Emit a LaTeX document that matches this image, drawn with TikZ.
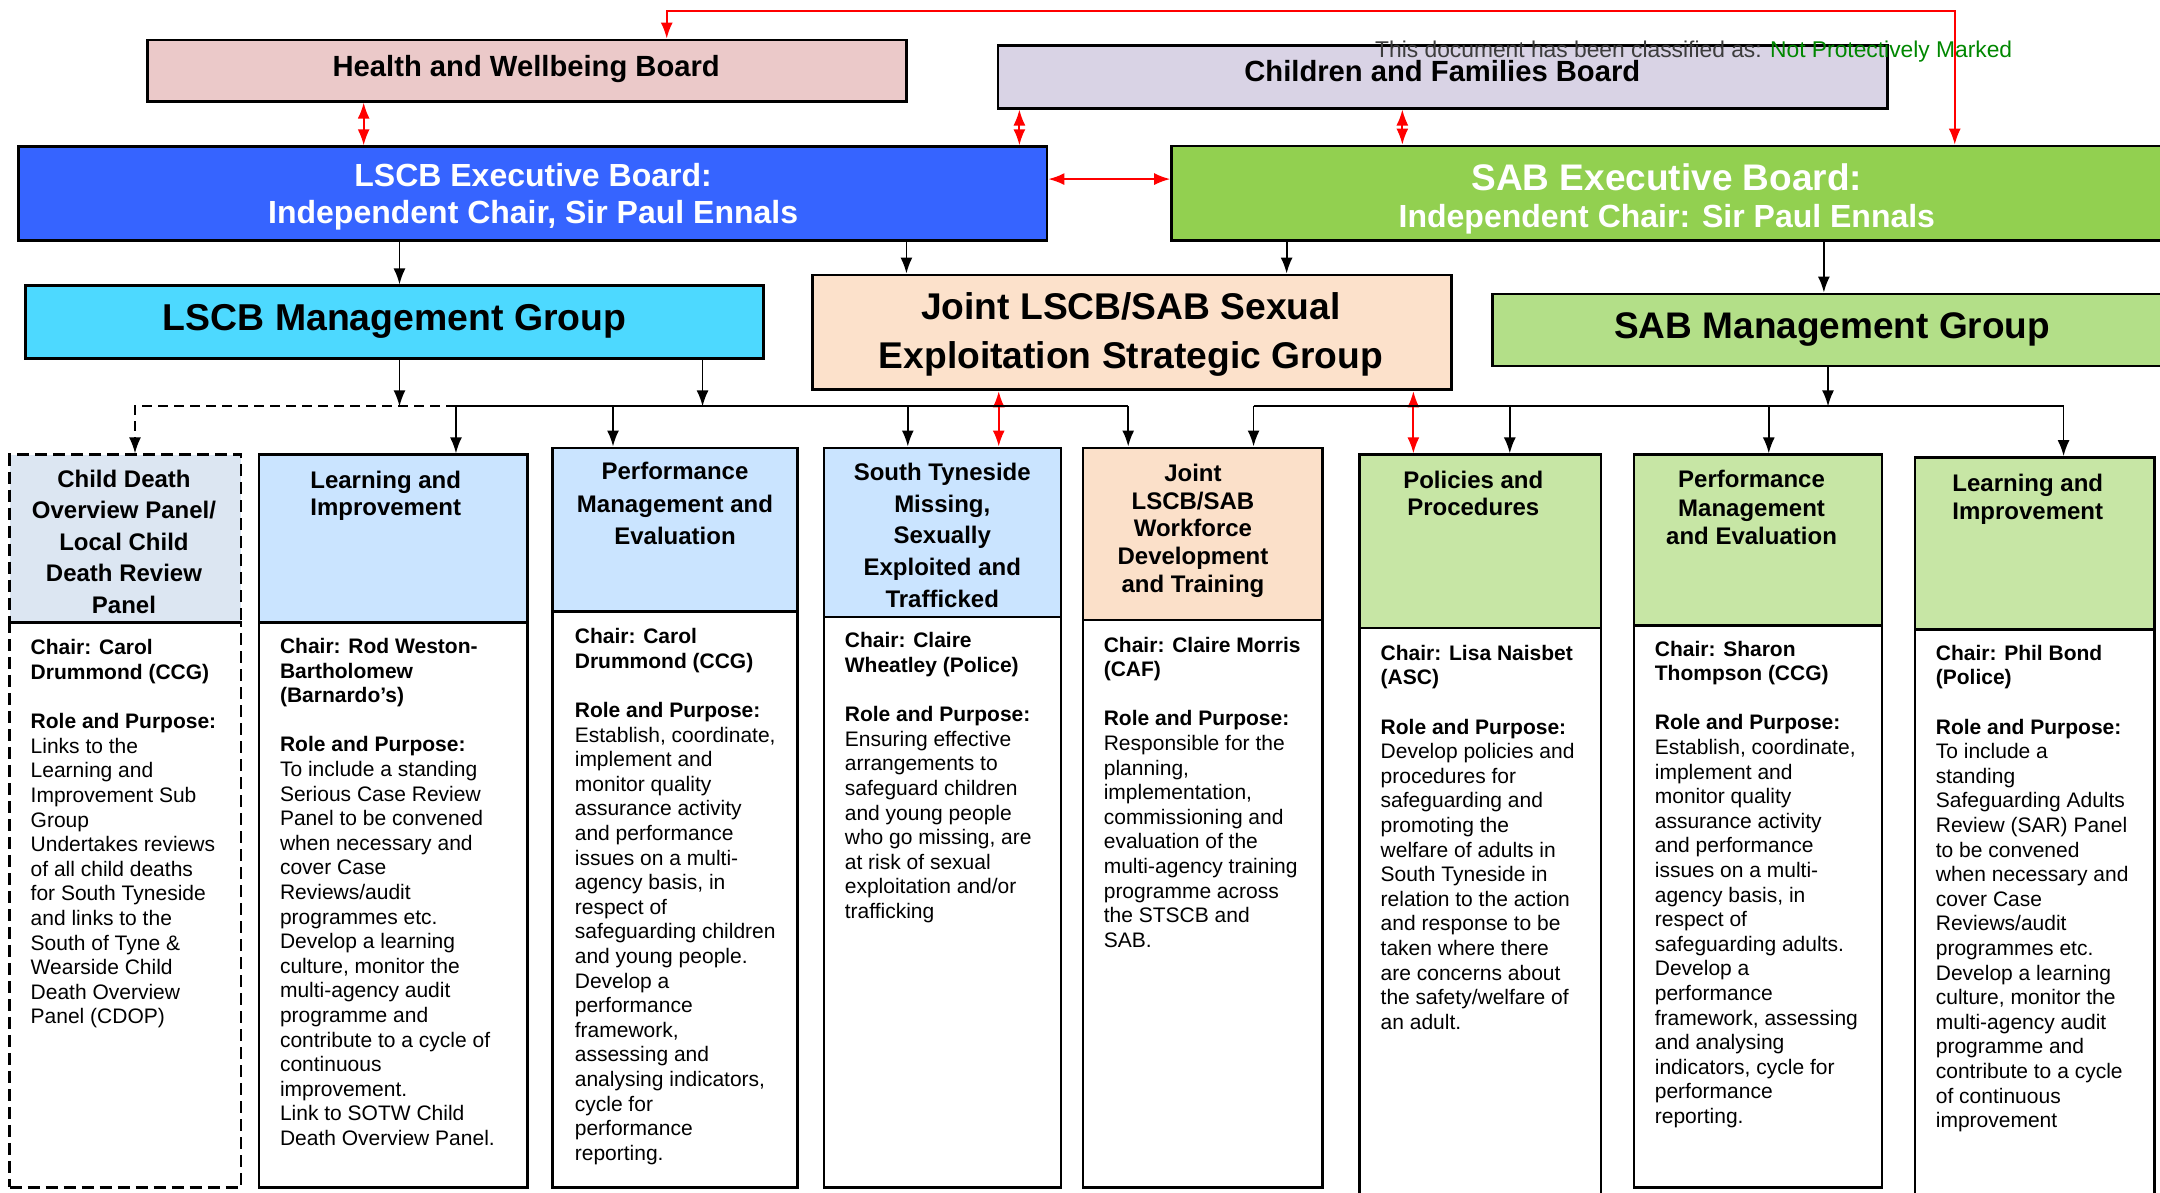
\documentclass[tikz,border=0pt]{standalone}
\usepackage{fontspec}
\setmainfont{Liberation Sans}
\usetikzlibrary{arrows.meta,fit}

\definecolor{hwbpink}{RGB}{235,201,201}
\definecolor{cfblilac}{RGB}{217,211,229}
\definecolor{lscbblue}{RGB}{54,100,255}
\definecolor{sabgreen}{RGB}{146,208,80}
\definecolor{lscbcyan}{RGB}{77,217,255}
\definecolor{jointpeach}{RGB}{252,225,203}
\definecolor{sablight}{RGB}{179,223,136}
\definecolor{cdopgrey}{RGB}{220,230,242}
\definecolor{subblue}{RGB}{202,228,255}
\definecolor{subpeach}{RGB}{251,224,201}
\definecolor{subgreen}{RGB}{199,230,165}
\definecolor{classgrey}{RGB}{60,60,60}
\definecolor{classgreen}{RGB}{0,135,0}

\begin{document}
\begin{tikzpicture}[
    x=0.6888pt, y=-0.6888pt, % one unit = one px of the layout grid, y down
    topbox/.style = {draw=black, line width=1.4pt, inner sep=0pt},
    subbox/.style = {draw=black, line width=1.2pt, inner sep=0pt},
    toptxt/.style = {anchor=base, inner sep=0pt, font=\bfseries\fontsize{#1}{#1}\selectfont},
    headtxt/.style = {anchor=north, align=center, inner sep=0pt, font=\bfseries\fontsize{12}{#1}\selectfont, execute at begin node=\strut},
    headtxt/.default = 15.7,
    bodytxt/.style = {anchor=north west, align=left, inner sep=0pt, font=\fontsize{10.5}{12.3}\selectfont, execute at begin node=\strut},
    line/.style = {-{Latex[length=8pt,width=6pt]}, draw=black, line width=0.9pt},
    redline/.style = {{Latex[length=8pt,width=6pt]}-{Latex[length=8pt,width=6pt]}, draw=red, line width=0.9pt}
    ]
    \useasboundingbox (0,0) rectangle (1568,866);

    % boards
    \node[topbox, fill=hwbpink, fit={(107,29) (658,73.5)}] (hwb) {};
    \node[topbox, fill=cfblilac, fit={(724.5,33) (1370,78.5)}] (cfb) {};
    \node[topbox, fill=lscbblue, fit={(13.5,106.5) (760,174.7)}] (lscbexec) {};
    \node[topbox, fill=sabgreen, fit={(850.5,106) (1571,174.7)}] (sabexec) {};
    \node[topbox, fill=lscbcyan, fit={(18.5,207.5) (554.5,260)}] (lscbmg) {};
    \node[topbox, fill=jointpeach, fit={(590,199.6) (1053.4,283)}] (joint) {};
    \node[topbox, fill=sablight, fit={(1083.4,213.4) (1578,265.7)}] (sabmg) {};

    \node[toptxt=14.6] (hwb-t) at (382,55.7) {Health and Wellbeing Board};
    \node[toptxt=14.6] (cfb-t) at (1047,59.3) {Children and Families Board};
    \node[toptxt=16, text=white] (lscbexec-t1) at (387,135.5) {LSCB Executive Board:};
    \node[toptxt=16, text=white] (lscbexec-t2) at (387,162.6) {Independent Chair, Sir Paul Ennals};
    \node[toptxt=18.5, text=white] (sabexec-t1) at (1210,138) {SAB Executive Board:};
    \node[toptxt=16, text=white] (sabexec-t2) at (1210,165) {Independent Chair: Sir Paul Ennals};
    \node[toptxt=18.7] (lscbmg-t) at (286.5,239.8) {LSCB Management Group};
    \node[toptxt=18.6] (joint-t1) at (821,232) {Joint LSCB/SAB Sexual};
    \node[toptxt=18.6] (joint-t2) at (821,267.5) {Exploitation Strategic Group};
    \node[toptxt=18.5] (sabmg-t) at (1330,246) {SAB Management Group};

    \node[anchor=base west, inner sep=0pt, font=\fontsize{11.4}{11.4}\selectfont] (classnote) at (998,41.6)
        {\textcolor{classgrey}{This document has been classified as:} \textcolor{classgreen}{Not Protectively Marked}};

    % sub groups: header and body
    \node[subbox, dashed, dash pattern=on 6pt off 3pt, fill=cdopgrey, fit={(7,330) (175,452)}] (head-cdop) {};
    \node[subbox, dashed, dash pattern=on 6pt off 3pt, fit={(7,452) (175,862)}] (body-cdop) {};
    \node[subbox, fill=subblue, fit={(188,330) (383,452)}] (head-li) {};
    \node[subbox, fit={(188,452) (383,862)}] (body-li) {};
    \node[subbox, fill=subblue, fit={(401,325) (579,444)}] (head-pme) {};
    \node[subbox, fit={(401,444) (579,862)}] (body-pme) {};
    \node[subbox, fill=subblue, fit={(598,325) (770,448)}] (head-stm) {};
    \node[subbox, fit={(598,448) (770,862)}] (body-stm) {};
    \node[subbox, fill=subpeach, fit={(786,325) (960,450)}] (head-jwf) {};
    \node[subbox, fit={(786,450) (960,862)}] (body-jwf) {};
    \node[subbox, fill=subgreen, fit={(987,330) (1162,456)}] (head-pp) {};
    \node[subbox, fit={(987,456) (1162,872)}] (body-pp) {};
    \node[subbox, fill=subgreen, fit={(1186,330) (1366,454)}] (head-pme2) {};
    \node[subbox, fit={(1186,454) (1366,862)}] (body-pme2) {};
    \node[subbox, fill=subgreen, fit={(1390,332) (1564,457)}] (head-li2) {};
    \node[subbox, fit={(1390,457) (1564,872)}] (body-li2) {};

    \node[headtxt] (title-cdop) at (90,341) {Child Death\\Overview Panel/\\Local Child\\Death Review\\Panel};
    \node[headtxt=13.8] (title-li) at (280,341.5) {Learning and\\Improvement};
    \node[headtxt=16.2] (title-pme) at (490,335.5) {Performance\\Management and\\Evaluation};
    \node[headtxt=15.8] (title-stm) at (684,336) {South Tyneside\\Missing,\\Sexually\\Exploited and\\Trafficked};
    \node[headtxt=13.9] (title-jwf) at (866,336.4) {Joint\\LSCB/SAB\\Workforce\\Development\\and Training};
    \node[headtxt=13.8] (title-pp) at (1069.5,341.5) {Policies and\\Procedures};
    \node[headtxt=14.1] (title-pme2) at (1271.5,341.2) {Performance\\Management\\and Evaluation};
    \node[headtxt=13.8] (title-li2) at (1472,344) {Learning and\\Improvement};

    \node[bodytxt] (text-cdop) at (22,464) {\textbf{Chair: Carol}\\
        \textbf{Drummond (CCG)}\\[12.3pt]
        \textbf{Role and Purpose:}\\
        Links to the\\
        Learning and\\
        Improvement Sub\\
        Group\\
        Undertakes reviews\\
        of all child deaths\\
        for South Tyneside\\
        and links to the\\
        South of Tyne \&\\
        Wearside Child\\
        Death Overview\\
        Panel (CDOP)};
    \node[bodytxt] (text-li) at (203,463) {\textbf{Chair: Rod Weston-}\\
        \textbf{Bartholomew}\\
        \textbf{(Barnardo’s)}\\[12.3pt]
        \textbf{Role and Purpose:}\\
        To include a standing\\
        Serious Case Review\\
        Panel to be convened\\
        when necessary and\\
        cover Case\\
        Reviews/audit\\
        programmes etc.\\
        Develop a learning\\
        culture, monitor the\\
        multi-agency audit\\
        programme and\\
        contribute to a cycle of\\
        continuous\\
        improvement.\\
        Link to SOTW Child\\
        Death Overview Panel.};
    \node[bodytxt] (text-pme) at (417,456) {\textbf{Chair: Carol}\\
        \textbf{Drummond (CCG)}\\[12.3pt]
        \textbf{Role and Purpose:}\\
        Establish, coordinate,\\
        implement and\\
        monitor quality\\
        assurance activity\\
        and performance\\
        issues on a multi-\\
        agency basis, in\\
        respect of\\
        safeguarding children\\
        and young people.\\
        Develop a\\
        performance\\
        framework,\\
        assessing and\\
        analysing indicators,\\
        cycle for\\
        performance\\
        reporting.};
    \node[bodytxt] (text-stm) at (613,459) {\textbf{Chair: Claire}\\
        \textbf{Wheatley (Police)}\\[12.3pt]
        \textbf{Role and Purpose:}\\
        Ensuring effective\\
        arrangements to\\
        safeguard children\\
        and young people\\
        who go missing, are\\
        at risk of sexual\\
        exploitation and/or\\
        trafficking};
    \node[bodytxt] (text-jwf) at (801,462) {\textbf{Chair: Claire Morris}\\
        \textbf{(CAF)}\\[12.3pt]
        \textbf{Role and Purpose:}\\
        Responsible for the\\
        planning,\\
        implementation,\\
        commissioning and\\
        evaluation of the\\
        multi-agency training\\
        programme across\\
        the STSCB and\\
        SAB.};
    \node[bodytxt] (text-pp) at (1002,468) {\textbf{Chair: Lisa Naisbet}\\
        \textbf{(ASC)}\\[12.3pt]
        \textbf{Role and Purpose:}\\
        Develop policies and\\
        procedures for\\
        safeguarding and\\
        promoting the\\
        welfare of adults in\\
        South Tyneside in\\
        relation to the action\\
        and response to be\\
        taken where there\\
        are concerns about\\
        the safety/welfare of\\
        an adult.};
    \node[bodytxt] (text-pme2) at (1201,465) {\textbf{Chair: Sharon}\\
        \textbf{Thompson (CCG)}\\[12.3pt]
        \textbf{Role and Purpose:}\\
        Establish, coordinate,\\
        implement and\\
        monitor quality\\
        assurance activity\\
        and performance\\
        issues on a multi-\\
        agency basis, in\\
        respect of\\
        safeguarding adults.\\
        Develop a\\
        performance\\
        framework, assessing\\
        and analysing\\
        indicators, cycle for\\
        performance\\
        reporting.};
    \node[bodytxt] (text-li2) at (1405,468) {\textbf{Chair: Phil Bond}\\
        \textbf{(Police)}\\[12.3pt]
        \textbf{Role and Purpose:}\\
        To include a\\
        standing\\
        Safeguarding Adults\\
        Review (SAR) Panel\\
        to be convened\\
        when necessary and\\
        cover Case\\
        Reviews/audit\\
        programmes etc.\\
        Develop a learning\\
        culture, monitor the\\
        multi-agency audit\\
        programme and\\
        contribute to a cycle\\
        of continuous\\
        improvement};

    % red links between boards
    \coordinate (topL) at (484,8);
    \coordinate (topR) at (1419,8);
    \draw[redline] (hwb.north -| topL) -- (topL) -- (topR) -- (sabexec.north -| topR);
    \draw[redline] (hwb.south -| 264,0) -- (lscbexec.north -| 264,0);
    \draw[redline] (cfb.south -| 740,0) -- (lscbexec.north -| 740,0);
    \draw[redline] (cfb.south -| 1018,0) -- (sabexec.north -| 1018,0);
    \draw[redline] (lscbexec.east |- 0,130) -- (sabexec.west |- 0,130);
    \draw[redline] (joint.south -| 725,0) -- (head-stm.north -| 725,0);
    \draw[redline] (joint.south -| 1026,0) -- (head-pp.north -| 1026,0);

    % reporting lines
    \draw[line] (lscbexec.south -| 290,0) -- (lscbmg.north -| 290,0);
    \draw[line] (lscbexec.south -| 658,0) -- (joint.north -| 658,0);
    \draw[line] (sabexec.south -| 934,0) -- (joint.north -| 934,0);
    \draw[line] (sabexec.south -| 1324,0) -- (sabmg.north -| 1324,0);

    \coordinate (lbus) at (0,295);
    \coordinate (rbus) at (0,295);
    \draw[line] (lscbmg.south -| 290,0) -- (lbus -| 290,0);
    \draw[line] (lscbmg.south -| 510,0) -- (lbus -| 510,0);
    \draw[line, dash pattern=on 5pt off 3pt] (lbus -| 331,0) -| (head-cdop.north -| 98,0);
    \draw[line width=0.9pt] (lbus -| 331,0) -- (lbus -| 819,0);
    \foreach \bx/\bn in {331/li, 445/pme, 659/stm, 819/jwf}
        \draw[line] (lbus -| \bx,0) -- (head-\bn.north -| \bx,0);

    \draw[line] (sabmg.south -| 1327,0) -- (rbus -| 1327,0);
    \draw[line width=0.9pt] (rbus -| 910,0) -- (rbus -| 1498,0);
    \foreach \bx/\bn in {910/jwf, 1096/pp, 1284/pme2, 1498/li2}
        \draw[line] (rbus -| \bx,0) -- (head-\bn.north -| \bx,0);
\end{tikzpicture}
\end{document}
